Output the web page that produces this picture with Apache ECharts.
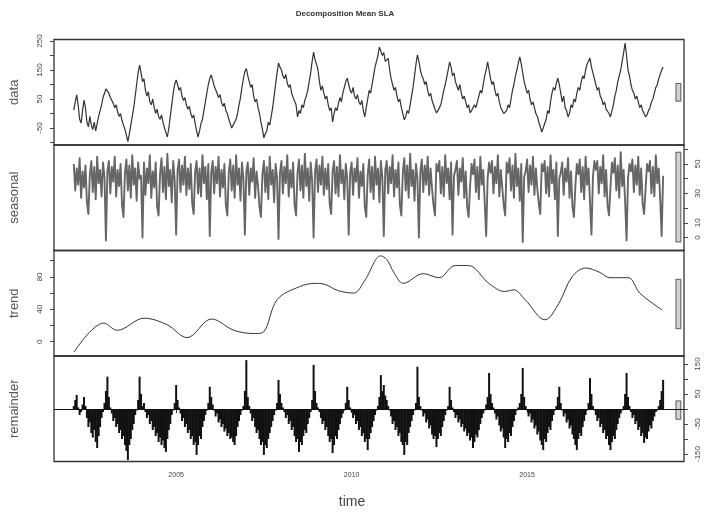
<!DOCTYPE html>
<html>
<head>
<meta charset="utf-8">
<script src="https://cdn.jsdelivr.net/npm/echarts@6/dist/echarts.min.js"></script>
<style>
  html, body { margin: 0; padding: 0; background: #fff; }
  #chart { width: 706px; height: 514px; }
</style>
</head>
<body>
<div id="chart"></div>
<script>
// series starts Feb 2002, 24 values per year
const startYear = 2002 + 2 / 24
const perYear = 24

const dataValues = [
  // 2002
  12, 40, 64, 30, -20, -33, 10, 46, 20, -30, -46, -10, -40, -55, -30, -60, -35, -10, 10, 30, 55, 70,
  // 2003
  85, 91, 70, 55, 60, 35, 20, 30, 5, -10, 0, -25, -40, -55, -75, -97, -70, -40, -10, 20, 60, 100, 140, 167,
  // 2004
  140, 110, 120, 80, 60, 75, 40, 30, 50, 20, 0, 15, -10, -20, -5, -30, -50, -65, -81, -50, -10, 30, 70, 100,
  // 2005
  116, 100, 80, 90, 60, 45, 55, 30, 15, 25, 0, -15, -5, -35, -60, -81, -60, -35, -20, 10, 40, 70, 100, 120,
  // 2006
  133, 115, 95, 100, 70, 55, 65, 40, 25, 35, 10, 0, -20, -35, -50, -40, -45, -20, 0, 30, 55, 90, 120, 145,
  // 2007
  155, 130, 110, 90, 100, 60, 40, 50, 20, 0, -30, -55, -84, -70, -60, -30, -40, -10, 20, 60, 100, 140, 174, 160,
  // 2008
  150, 130, 120, 135, 105, 90, 100, 70, 55, 60, 30, -12, 10, 0, 30, 20, 45, 60, 80, 110, 140, 180, 212, 185,
  // 2009
  170, 150, 110, 80, 95, 70, 50, 60, 30, 10, 20, -29, 0, 20, 10, 35, 55, 40, 70, 90, 110, 122, 100, 80,
  // 2010
  70, 90, 60, 50, 65, 40, 30, 45, 10, -12, 20, 50, 80, 70, 100, 130, 160, 180, 200, 229, 215, 200, 210, 180,
  // 2011
  175, 190, 150, 120, 100, 80, 90, 60, 40, 50, 20, 0, -22, -10, 10, 0, 30, 60, 90, 130, 170, 202, 180, 150,
  // 2012
  130, 120, 100, 110, 80, 60, 70, 45, 30, 15, 2, 10, 5, 30, 55, 80, 100, 125, 150, 178, 160, 130, 140, 110,
  // 2013
  95, 80, 100, 70, 50, 60, 40, 20, 30, 2, 10, 15, 30, 20, 40, 60, 80, 70, 100, 130, 150, 178, 150, 120,
  // 2014
  100, 110, 80, 60, 70, 40, 20, 25, 0, -5, 10, 30, 20, 50, 80, 100, 130, 150, 175, 195, 170, 140, 110, 90,
  // 2015
  70, 80, 50, 30, 40, 20, 0, -10, -30, -45, -64, -50, -55, -20, 10, 0, 40, 70, 90, 80, 105, 122, 100, 70,
  // 2016
  40, 60, 20, 10, -12, 0, 30, 20, 50, 40, 70, 90, 80, 110, 130, 120, 150, 170, 180, 191, 160, 140, 120, 100,
  // 2017
  80, 90, 60, 50, 30, 40, 15, 20, 0, -12, 10, 30, 60, 80, 110, 130, 150, 180, 210, 243, 200, 150, 130, 100,
  // 2018
  80, 70, 50, 60, 40, 20, 30, 10, 0, -12, -5, 10, 20, 40, 50, 70, 90, 100, 120, 135, 150, 160
]

const seasonalValues = [
  // 2002
  50, 32, 47, 36, 54, 27, 45, 34, 49, 24, 16, 43, 52, 31, 48, 26, 55, 37, 46, 28, 51, 41,
  // 2003
  -2, 45, 52, 30, 48, 38, 55, 28, 46, 35, 50, 22, 14, 44, 53, 32, 49, 27, 56, 36, 47, 25, 51, 40,
  // 2004
  42, 0, 51, 29, 47, 37, 56, 27, 45, 34, 51, 21, 15, 43, 54, 31, 48, 26, 57, 35, 46, 24, 52, 39,
  // 2005
  2, 46, 53, 31, 49, 36, 55, 29, 47, 33, 50, 23, 16, 45, 52, 30, 47, 28, 56, 37, 48, 26, 50, 1,
  // 2006
  44, 52, 30, 48, 37, 55, 28, 46, 34, 50, 22, 15, 44, 53, 32, 49, 27, 56, 36, 47, 25, 51, 40, 2,
  // 2007
  45, 51, 29, 47, 38, 54, 27, 45, 35, 21, 14, 43, 52, 31, 48, 26, 55, 36, 46, 24, 50, 41, -1, 44,
  // 2008
  52, 30, 48, 37, 56, 28, 46, 34, 51, 22, 15, 44, 53, 32, 49, 27, 57, 35, 47, 25, 51, 39, 0, 45,
  // 2009
  53, 31, 49, 36, 55, 29, 47, 33, 50, 23, 16, 45, 52, 30, 48, 28, 56, 37, 46, 26, 50, 40, 2, 44,
  // 2010
  51, 29, 47, 38, 54, 27, 45, 35, 50, 21, 14, 43, 53, 31, 48, 26, 55, 36, 47, 24, 52, 41, 1, 46,
  // 2011
  52, 30, 48, 37, 56, 28, 46, 34, 51, 22, 15, 44, 54, 32, 49, 27, 57, 35, 46, 25, 50, 40, 0, 45,
  // 2012
  53, 31, 49, 36, 55, 29, 47, 33, 22, 15, 50, 45, 52, 30, 48, 28, 56, 37, 47, 26, 51, 2, 42, 46,
  // 2013
  52, 29, 47, 38, 54, 27, 45, 21, 14, 35, 50, 43, 53, 31, 48, 26, 55, 36, 46, 24, 1, 40, 51, 44,
  // 2014
  52, 30, 48, 37, 56, 28, 46, 34, 22, 15, 51, 44, 54, 32, 49, 27, 57, 35, 47, 25, 50, -3, 41, 45,
  // 2015
  53, 31, 49, 36, 55, 29, 47, 33, 23, 16, 50, 45, 52, 30, 48, 28, 56, 37, 46, 26, 51, 1, 40, 44,
  // 2016
  51, 29, 47, 38, 54, 27, 45, 21, 14, 35, 50, 43, 53, 31, 48, 26, 55, 36, 47, 24, 2, 41, 52, 46,
  // 2017
  52, 30, 48, 37, 56, 28, 46, 22, 15, 34, 51, 44, 54, 32, 49, 27, 58, 35, 46, 25, -2, 40, 50, 45,
  // 2018
  53, 31, 49, 36, 55, 29, 47, 23, 16, 33, 50, 45, 52, 30, 48, 28, 56, 37, 47, 26, 1, 42
]

// trend read at its turning points
const trendYears = [
  2002.09, 2002.94, 2003.32, 2004.09, 2004.74, 2005.31, 2006.01, 2006.65, 2007.24, 2007.49,
  2007.88, 2008.52, 2008.96, 2009.22, 2009.62, 2010.06, 2010.38, 2010.83, 2011.01, 2011.21,
  2011.47, 2012.04, 2012.49, 2012.95, 2013.33, 2013.91, 2014.36, 2014.62, 2014.94, 2015.51,
  2015.9, 2016.28, 2016.67, 2017.05, 2017.36, 2017.88, 2018.21, 2018.85
]
const trendValues = [
  -13, 23, 14, 29, 21, 5, 28, 14, 10, 12,
  52, 68, 72, 71, 63, 60, 76, 106, 101, 85,
  72, 84, 79, 94, 94, 72, 62, 64, 52, 27,
  47, 80, 91, 86, 79, 79, 60, 39
]

const remainderValues = [
  // 2002
  10, 30, 47, 5, -20, -10, 15, 40, 10, -30, -60, -45, -80, -95, -70, -110, -130, -90, -60, -30, -10, 20,
  // 2003
  60, 108, 40, 5, -15, -40, -30, -60, -50, -80, -70, -100, -90, -120, -140, -170, -120, -100, -70, -50, -20, -5, 30, 108,
  // 2004
  50, 10, 20, -10, -30, -20, -50, -40, -70, -60, -90, -80, -110, -95, -120, -105, -130, -143, -100, -70, -50, -20, -5, 20,
  // 2005
  80, 30, 5, -15, -40, -30, -60, -50, -80, -70, -100, -90, -120, -110, -153, -120, -90, -100, -60, -40, -20, -5, 20, 74,
  // 2006
  40, 15, -5, -25, -15, -45, -35, -60, -50, -75, -65, -90, -80, -100, -95, -110, -120, -90, -60, -40, -20, -5, 10, 60,
  // 2007
  163, 40, 10, -15, -40, -30, -60, -80, -70, -100, -120, -110, -153, -120, -130, -100, -80, -60, -40, -20, -5, 20, 97, 50,
  // 2008
  20, 5, -10, -30, -20, -50, -40, -70, -60, -90, -110, -100, -143, -110, -120, -90, -70, -80, -50, -30, -10, 30, 147, 60,
  // 2009
  20, 5, -10, -30, -50, -40, -70, -60, -90, -110, -100, -147, -120, -90, -100, -70, -50, -30, -15, -5, 20, 74, 30, 5,
  // 2010
  -10, -30, -20, -50, -40, -70, -60, -90, -80, -110, -100, -137, -100, -80, -60, -40, -20, -5, 10, 40, 113, 60, 80, 45,
  // 2011
  30, 10, -5, -25, -50, -40, -70, -60, -90, -80, -110, -120, -153, -110, -120, -80, -60, -40, -20, -5, 20, 141, 40, 10,
  // 2012
  -5, -25, -15, -45, -35, -65, -55, -85, -100, -90, -127, -100, -80, -90, -60, -40, -20, -5, 10, 74, 30, 5, -10, -30,
  // 2013
  -20, -45, -35, -60, -50, -75, -65, -90, -80, -105, -95, -130, -110, -85, -95, -70, -50, -30, -15, -5, 15, 40, 120, 50,
  // 2014
  20, 5, -15, -35, -25, -55, -75, -65, -95, -130, -100, -110, -80, -90, -60, -40, -20, -5, 5, 20, 50, 137, 40, 10,
  // 2015
  -5, -25, -15, -45, -35, -65, -55, -85, -75, -105, -120, -137, -100, -110, -80, -60, -70, -40, -20, -5, 10, 40, 74, 20,
  // 2016
  -5, -25, -15, -45, -35, -65, -55, -85, -100, -120, -137, -100, -80, -90, -60, -40, -20, -5, 20, 103, 50, 10, -5, -20,
  // 2017
  -40, -30, -60, -50, -80, -70, -100, -90, -120, -137, -110, -90, -100, -70, -50, -30, -15, -5, 10, 50, 120, 40, 10, -10,
  // 2018
  -30, -20, -50, -40, -70, -60, -90, -80, -113, -95, -100, -75, -55, -65, -40, -25, -10, -5, 10, 30, 60, 97
]

const timeTicks = [2005, 2010, 2015]
const dataTicks = [-100, -50, 0, 50, 100, 150, 200, 250]
const dataLabels = [-50, 50, 150, 250]
const seasonalTicks = [0, 10, 20, 30, 40, 50, 60]
const seasonalLabels = [0, 10, 30, 50]
const trendTicks = [0, 20, 40, 60, 80, 100]
const trendLabels = [0, 40, 80]
const remainderTicks = [-150, -100, -50, 0, 50, 100, 150]
const remainderLabels = [-150, -50, 50, 150]

function toPairs(values) {
  return values.map((v, i) => [startYear + i / perYear, v])
}

function rangeOf(values) {
  return [Math.min(...values), Math.max(...values)]
}

// R style range bars: same height in user units on every panel
const ranges = [dataValues, seasonalValues, trendValues, remainderValues].map(rangeOf)
const barHeight = Math.min(...ranges.map(r => r[1] - r[0]))
function rangeBar(r) {
  const mid = (r[0] + r[1]) / 2
  return {
    silent: true,
    itemStyle: { color: '#d3d3d3', borderColor: '#333', borderWidth: 0.8 },
    data: [[{ xAxis: 2019.24, yAxis: mid - barHeight / 2 }, { xAxis: 2019.38, yAxis: mid + barHeight / 2 }]]
  }
}

const font = 'Liberation Sans, Arial, sans-serif'
const panelTop = [39.5, 145, 250.5, 356]
const panelH = 105.5

function xAxisFor(i, last) {
  return {
    type: 'value', gridIndex: i, min: 2001.52, max: 2019.47,
    splitLine: { show: false },
    axisLine: { show: false },
    axisTick: last ? { show: true, customValues: timeTicks, length: 4, lineStyle: { color: '#333' } } : { show: false },
    axisLabel: last ? {
      show: true, customValues: timeTicks, fontSize: 7, color: '#444', margin: 10, fontFamily: font,
      formatter: v => String(v)
    } : { show: false },
    name: last ? 'time' : '',
    nameLocation: 'middle',
    nameGap: 34,
    nameTextStyle: { fontSize: 14, color: '#444', fontFamily: font, padding: [0, 34, 0, 0] }
  }
}

function yAxisFor(grid, pos, min, max, ticks, labels, name) {
  return {
    type: 'value', gridIndex: grid, position: pos, min: min, max: max,
    splitLine: { show: false },
    axisLine: { show: false },
    axisTick: ticks ? { show: true, customValues: ticks, length: 4, lineStyle: { color: '#444' } } : { show: false },
    axisLabel: labels ? {
      show: true, customValues: labels, rotate: 90, fontSize: 8, color: '#444',
      margin: 10, fontFamily: font
    } : { show: false },
    name: name || '',
    nameLocation: 'middle',
    nameRotate: 90,
    nameGap: 33,
    nameTextStyle: { fontSize: 13, color: '#555', fontFamily: font }
  }
}

const chart = echarts.init(document.getElementById('chart'), null, { renderer: 'canvas' })

const option = {
  backgroundColor: '#fff',
  animation: false,
  title: {
    text: 'Decomposition Mean SLA',
    left: 340, top: 5, textAlign: 'center',
    textStyle: { fontSize: 8, fontWeight: 'bold', color: '#333', fontFamily: font }
  },
  grid: panelTop.map(t => ({
    left: 54, right: 22, top: t, height: panelH,
    show: true, borderColor: '#333', borderWidth: 1.3, backgroundColor: 'transparent'
  })),
  xAxis: [xAxisFor(0, false), xAxisFor(1, false), xAxisFor(2, false), xAxisFor(3, true)],
  yAxis: [
    yAxisFor(0, 'left', -108.6, 255.2, dataTicks, dataLabels, 'data'),
    yAxisFor(1, 'left', -8.8, 62.9, null, null, 'seasonal'),
    yAxisFor(1, 'right', -8.8, 62.9, seasonalTicks, seasonalLabels, ''),
    yAxisFor(2, 'left', -17.7, 112.6, trendTicks, trendLabels, 'trend'),
    yAxisFor(3, 'left', -175, 176.7, null, null, 'remainder'),
    yAxisFor(3, 'right', -175, 176.7, remainderTicks, remainderLabels, '')
  ],
  series: [
    {
      name: 'data', type: 'line', xAxisIndex: 0, yAxisIndex: 0,
      data: toPairs(dataValues), showSymbol: false,
      lineStyle: { color: '#333', width: 1.2 },
      markArea: rangeBar(ranges[0])
    },
    {
      name: 'seasonal', type: 'line', xAxisIndex: 1, yAxisIndex: 2,
      data: toPairs(seasonalValues), showSymbol: false,
      lineStyle: { color: '#666', width: 1.9, join: 'round' },
      markArea: rangeBar(ranges[1])
    },
    {
      name: 'trend', type: 'line', xAxisIndex: 2, yAxisIndex: 3,
      data: trendYears.map((y, i) => [y, trendValues[i]]), showSymbol: false, smooth: 0.35,
      lineStyle: { color: '#333', width: 1 },
      markArea: rangeBar(ranges[2])
    },
    {
      name: 'remainder', type: 'bar', xAxisIndex: 3, yAxisIndex: 5,
      data: toPairs(remainderValues), barWidth: 2,
      itemStyle: { color: '#111' },
      markArea: rangeBar(ranges[3]),
      markLine: {
        silent: true, symbol: 'none', label: { show: false },
        lineStyle: { color: '#111', width: 1, type: 'solid' },
        data: [{ yAxis: 0 }]
      }
    }
  ]
}

chart.setOption(option)
</script>
</body>
</html>
